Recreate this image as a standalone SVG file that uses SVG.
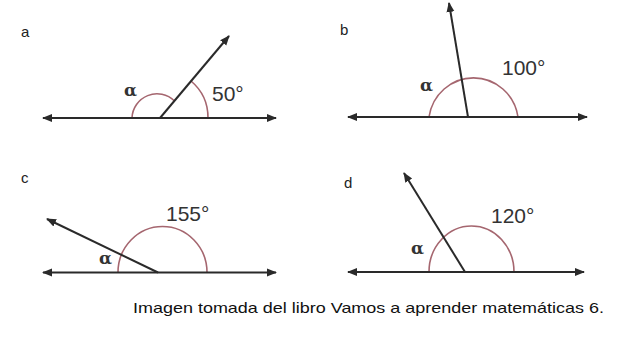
<svg xmlns="http://www.w3.org/2000/svg" width="617" height="337" viewBox="0 0 617 337">
<defs>
<marker id="ah" viewBox="0 0 10 10" refX="9" refY="5" markerWidth="5" markerHeight="5" orient="auto-start-reverse" markerUnits="strokeWidth">
<path d="M0,1 L10,5 L0,9 Z" fill="#2a2a2a"/>
</marker>
<style>
.ln{stroke:#2a2a2a;stroke-width:2;fill:none;marker-start:url(#ah);marker-end:url(#ah)}
.ray{stroke:#2a2a2a;stroke-width:2;fill:none;marker-end:url(#ah)}
.arc{stroke:#a5666f;stroke-width:1.6;fill:none}
.lbl{font-family:"Liberation Sans",Arial,sans-serif;font-size:15px;fill:#222}
.deg{font-family:"Liberation Sans",Arial,sans-serif;font-size:21px;fill:#333}
.al{font-family:"DejaVu Serif","Liberation Serif",serif;font-size:17px;font-weight:bold;fill:#333}
.cap{font-family:"Liberation Sans",Arial,sans-serif;font-size:15px;fill:#111}
</style>
</defs>
<rect width="617" height="337" fill="#ffffff"/>
<g id="panel-a">
<text class="lbl" x="21" y="37">a</text>
<path class="arc" d="M132,118 A25,25 0 0 1 174.5,101"/>
<path class="arc" d="M191,81 A48,48 0 0 1 208,118"/>
<line class="ln" x1="43" y1="118" x2="276" y2="118"/>
<line class="ray" x1="160" y1="118" x2="229" y2="36"/>
<text class="al" x="124" y="96">α</text>
<text class="deg" x="212" y="101">50°</text>
</g>
<g id="panel-b">
<text class="lbl" x="340" y="35">b</text>
<path class="arc" d="M429,117 A45,46 0 0 1 518,117"/>
<line class="ln" x1="348" y1="117" x2="587" y2="117"/>
<line class="ray" x1="468" y1="117" x2="449" y2="3"/>
<text class="al" x="420" y="91">α</text>
<text class="deg" x="502" y="75">100°</text>
</g>
<g id="panel-c">
<text class="lbl" x="21" y="183">c</text>
<path class="arc" d="M118,272.5 A44.5,46 0 0 1 207,272.5"/>
<line class="ln" x1="43" y1="272.5" x2="276" y2="272.5"/>
<line class="ray" x1="158" y1="272.5" x2="47" y2="219"/>
<text class="al" x="99" y="264">α</text>
<text class="deg" x="166" y="221">155°</text>
</g>
<g id="panel-d">
<text class="lbl" x="344" y="188">d</text>
<path class="arc" d="M429,272 A42.5,46 0 0 1 514,272"/>
<line class="ln" x1="348" y1="272" x2="584" y2="272"/>
<line class="ray" x1="465" y1="272" x2="404" y2="173"/>
<text class="al" x="411" y="254">α</text>
<text class="deg" x="491" y="223">120°</text>
</g>
<text class="cap" x="133" y="313" textLength="471" lengthAdjust="spacingAndGlyphs">Imagen tomada del libro Vamos a aprender matemáticas 6.</text>
</svg>
